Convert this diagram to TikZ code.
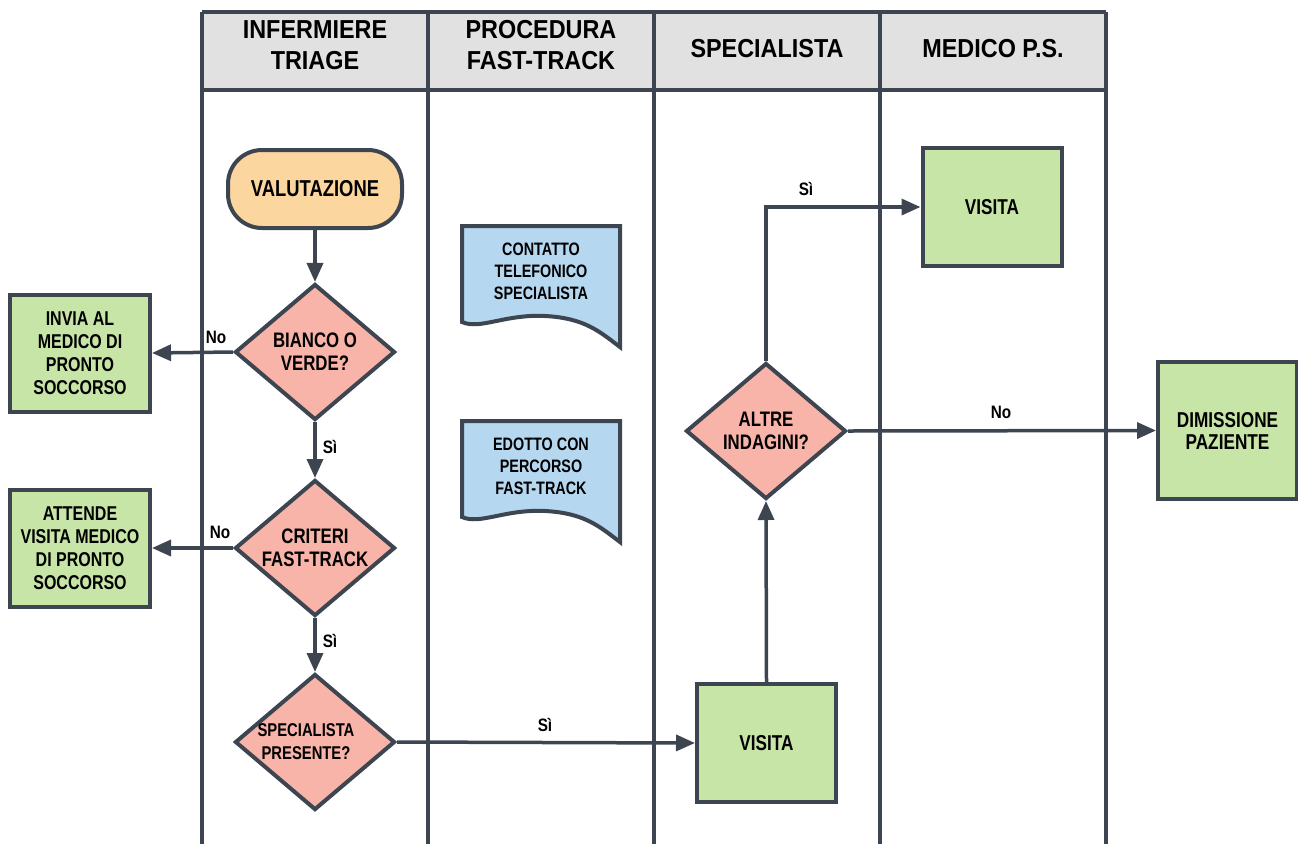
\documentclass[tikz,border=0pt]{standalone}
\usepackage{fontspec}
\setmainfont{Liberation Sans}
\newfontfamily\condA[FakeStretch=0.8]{Liberation Sans Bold}
\newfontfamily\condH[FakeStretch=0.9]{Liberation Sans Bold}
\newfontfamily\condL[FakeStretch=0.85]{Liberation Sans Bold}
\usetikzlibrary{shapes.geometric,arrows.meta}
\definecolor{ln}{HTML}{3C4550}
\definecolor{hdr}{HTML}{E1E1E1}
\definecolor{orng}{HTML}{FCD69F}
\definecolor{pnk}{HTML}{F8B4A9}
\definecolor{grn}{HTML}{C7E5A7}
\definecolor{blu}{HTML}{B6D7F0}
\begin{document}
\begin{tikzpicture}[x=1pt,y=-1pt,
  lane/.style={draw=ln,line width=3.5pt},
  hdrtext/.style={font=\condH\fontsize{26}{31}\selectfont,align=center,text=black},
  startbox/.style={draw=ln,line width=4pt,fill=orng,rounded corners=34pt,minimum width=174pt,minimum height=78pt,font=\condA\fontsize{23}{27}\selectfont,align=center},
  decision/.style={diamond,draw=ln,line width=4pt,fill=pnk,minimum width=160pt,minimum height=136pt,aspect=1.18,inner sep=-20pt,font=\condA\fontsize{21}{23}\selectfont,align=center},
  sidebox/.style={draw=ln,line width=4pt,fill=grn,minimum width=140pt,minimum height=117pt,font=\condA\fontsize{20}{23}\selectfont,align=center},
  actbox/.style={draw=ln,line width=4pt,fill=grn,minimum width=139pt,minimum height=118pt,font=\condA\fontsize{21.5}{22}\selectfont,align=center},
  doctext/.style={font=\condA\fontsize{18}{22}\selectfont,align=center},
  docshape/.style={draw=ln,line width=4pt,fill=blu,line join=miter},
  flow/.style={draw=ln,line width=3.5pt,-{Triangle[length=19pt,width=16pt]}},
  lbl/.style={font=\condL\fontsize{18}{20}\selectfont}
]
\useasboundingbox (0,0) rectangle (1298,844);
% header
\fill[hdr] (202,12) rectangle (1106,90);
\draw[lane] (202,12) -- (1106,12);
\draw[lane] (202,90) -- (1106,90);
\foreach \x in {202,428,654,880,1106} \draw[lane] (\x,12) -- (\x,844);
\node[hdrtext] (h1) at (315,45) {INFERMIERE\\TRIAGE};
\node[hdrtext] (h2) at (541,45) {PROCEDURA\\FAST-TRACK};
\node[hdrtext] (h3) at (767,49) {SPECIALISTA};
\node[hdrtext] (h4) at (993,49) {MEDICO P.S.};

% documents
\draw[docshape] (462,226) -- (620,226) -- (620,347)
  .. controls (600,332) and (585,318) .. (545,316)
  .. controls (505,314) and (480,330) .. (462,322) -- cycle;
\node[doctext] (doc1) at (541,271) {CONTATTO\\TELEFONICO\\SPECIALISTA};
\draw[docshape] (462,421) -- (620,421) -- (620,542)
  .. controls (600,527) and (585,513) .. (545,511)
  .. controls (505,509) and (480,525) .. (462,517) -- cycle;
\node[doctext] (doc2) at (541,466) {EDOTTO CON\\PERCORSO\\FAST-TRACK};

% nodes
\node[startbox] (val) at (315,189) {VALUTAZIONE};
\node[decision] (d1) at (315,352) {BIANCO O\\VERDE?};
\node[decision] (d2) at (315,548) {CRITERI\\FAST-TRACK};
\node[decision,label={[font=\condA\fontsize{18.5}{23}\selectfont,align=center,xshift=-9pt]center:SPECIALISTA\\PRESENTE?}] (d3) at (315,742) {};
\node[sidebox] (invia) at (80,353) {INVIA AL\\MEDICO DI\\PRONTO\\SOCCORSO};
\node[sidebox] (attende) at (80,548) {ATTENDE\\VISITA MEDICO\\DI PRONTO\\SOCCORSO};
\node[actbox] (vis1) at (766.5,743) {VISITA};
\node[decision] (d4) at (766,431) {ALTRE\\INDAGINI?};
\node[actbox] (vis2) at (992,207) {VISITA};
\node[actbox,minimum height=137pt] (dim) at (1227.5,430.5) {DIMISSIONE\\PAZIENTE};

% connectors
\draw[flow] (val) -- (d1);
\draw[flow] (d1) -- (d2);
\draw[flow] (d2) -- (d3);
\draw[flow] (d1.west) -- (invia.east);
\draw[flow] (d2.west) -- (attende.east);
\draw[flow] (d3.east) -- (vis1.west);
\draw[flow] (vis1.north) -- (d4.south);
\draw[flow] (d4.north) |- (vis2.west);
\draw[flow] (d4.east) -- (dim.west);

% labels
\node[lbl] (l1) at (216,337) {No};
\node[lbl] (l2) at (330,447) {Sì};
\node[lbl] (l3) at (220,532) {No};
\node[lbl] (l4) at (330,641) {Sì};
\node[lbl] (l5) at (545,725) {Sì};
\node[lbl] (l6) at (806,189) {Sì};
\node[lbl] (l7) at (1001,412) {No};
\end{tikzpicture}
\end{document}
